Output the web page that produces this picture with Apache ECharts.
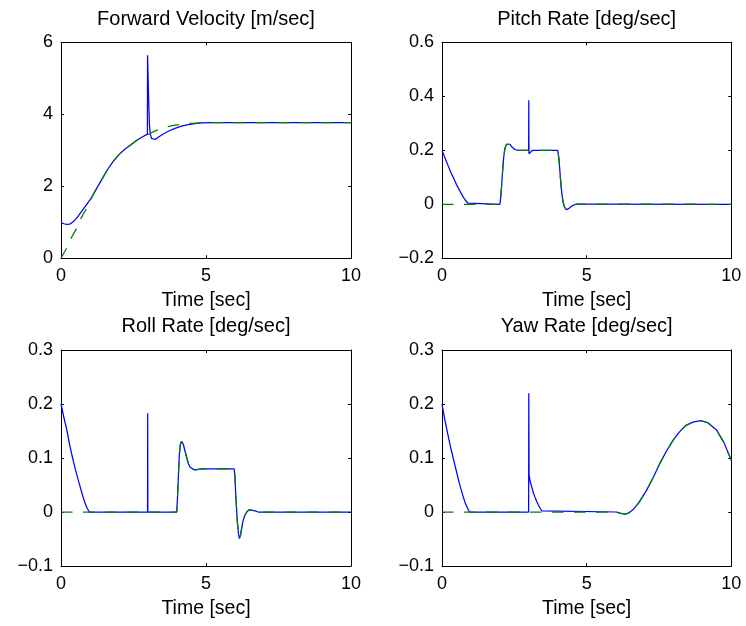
<!DOCTYPE html>
<html>
<head>
<meta charset="utf-8">
<title>Vehicle response</title>
<script src="https://cdn.jsdelivr.net/npm/echarts@6/dist/echarts.min.js"></script>
<style>
  html, body { margin: 0; padding: 0; background: #fff; }
  #chart { width: 746px; height: 626px; }
</style>
</head>
<body>
<div id="chart"></div>
<script>
// ---- Forward velocity [m/sec] ----
const velT = [0, 0.1, 0.2, 0.3, 0.4, 0.5, 0.6, 0.7, 0.8, 0.9, 1.0, 1.1, 1.2, 1.3, 1.4, 1.6, 1.8, 2.0, 2.2, 2.4, 2.6, 2.8, 2.98,
              2.985, 3.02, 3.05, 3.08, 3.12, 3.18, 3.25, 3.35, 3.5, 3.7, 3.93, 4.1, 4.3, 4.5, 4.8, 5.2, 6, 8, 10];
const velV = [0.99, 0.96, 0.94, 0.95, 1.0, 1.08, 1.18, 1.29, 1.40, 1.51, 1.62, 1.76, 1.90, 2.04, 2.18, 2.46, 2.69, 2.88, 3.03, 3.15, 3.27, 3.37, 3.45,
              5.64, 4.5, 3.7, 3.45, 3.33, 3.29, 3.30, 3.36, 3.44, 3.53, 3.61, 3.66, 3.70, 3.73, 3.76, 3.77, 3.77, 3.77, 3.77];
const velRefT = [0, 0.2, 0.35, 0.54, 0.69, 0.89, 1.0, 1.1, 1.2, 1.3, 1.4, 1.6, 1.8, 2.0, 2.2, 2.4, 2.6, 2.8, 3.0, 3.24, 3.45, 3.64, 3.93, 4.2, 4.5, 4.8, 5.2, 10];
const velRefV = [0, 0.29, 0.56, 0.83, 1.11, 1.40, 1.60, 1.75, 1.90, 2.04, 2.18, 2.46, 2.69, 2.88, 3.03, 3.15, 3.27, 3.36, 3.44, 3.54, 3.60, 3.65, 3.70, 3.73, 3.75, 3.76, 3.77, 3.77];

// ---- Pitch rate [deg/sec] ----
const pitchT = [0, 0.1, 0.2, 0.3, 0.4, 0.5, 0.6, 0.7, 0.8, 0.9, 0.96, 2.0, 2.03, 2.06, 2.09, 2.12, 2.15, 2.18, 2.23, 2.29, 2.35, 2.42, 2.52, 2.62, 2.75,
                2.995, 3.0, 3.005, 3.05, 3.13, 4.0, 4.04, 4.08, 4.11, 4.14, 4.18, 4.22, 4.29, 4.38, 4.48, 4.57, 4.65, 10];
const pitchV = [0.2, 0.172, 0.146, 0.12, 0.097, 0.073, 0.053, 0.033, 0.016, 0.004, 0, 0, 0.025, 0.067, 0.115, 0.16, 0.19, 0.209, 0.222, 0.227, 0.222, 0.212, 0.203, 0.2, 0.2,
                0.2, 0.385, 0.187, 0.192, 0.2, 0.2, 0.17, 0.116, 0.075, 0.042, 0.012, -0.007, -0.02, -0.016, -0.007, -0.002, 0.001, 0];
const pitchRefT = [0, 2.0, 2.03, 2.06, 2.09, 2.12, 2.15, 2.18, 2.23, 2.29, 2.35, 2.42, 2.52, 2.62, 2.75,
                   4.0, 4.04, 4.08, 4.11, 4.14, 4.18, 4.22, 4.29, 4.38, 4.48, 4.57, 4.65, 10];
const pitchRefV = [0, 0, 0.025, 0.067, 0.115, 0.16, 0.19, 0.209, 0.222, 0.227, 0.222, 0.212, 0.203, 0.2, 0.2,
                   0.2, 0.17, 0.116, 0.075, 0.042, 0.012, -0.007, -0.02, -0.016, -0.007, -0.002, 0.001, 0];

// ---- Roll rate [deg/sec] ----
const rollT = [0, 0.1, 0.2, 0.3, 0.4, 0.5, 0.6, 0.7, 0.8, 0.9, 0.98, 2.985, 2.99, 2.995,
               3.99, 4.02, 4.05, 4.08, 4.11, 4.16, 4.22, 4.28, 4.34, 4.39, 4.45, 4.51, 4.6, 4.75, 4.9, 5.97,
               6.0, 6.02, 6.05, 6.08, 6.12, 6.15, 6.19, 6.23, 6.28, 6.34, 6.42, 6.49, 6.6, 6.69, 6.8, 10];
const rollV = [0.2, 0.175, 0.152, 0.124, 0.1, 0.078, 0.058, 0.039, 0.021, 0.007, 0, 0, 0.183, 0,
               0, 0.03, 0.069, 0.105, 0.124, 0.131, 0.125, 0.112, 0.1, 0.09, 0.083, 0.08, 0.078, 0.079, 0.08, 0.08,
               0.065, 0.038, 0.01, -0.018, -0.04, -0.049, -0.043, -0.03, -0.016, -0.006, 0.001, 0.004, 0.003, 0.002, 0, 0];
const rollRefT = [0, 3.99, 4.02, 4.05, 4.08, 4.11, 4.16, 4.22, 4.28, 4.34, 4.39, 4.45, 4.51, 4.6, 4.75, 4.9, 5.97,
                  6.0, 6.02, 6.05, 6.08, 6.12, 6.15, 6.19, 6.23, 6.28, 6.34, 6.42, 6.49, 6.6, 6.69, 6.8, 10];
const rollRefV = [0, 0, 0.03, 0.069, 0.105, 0.124, 0.131, 0.125, 0.112, 0.1, 0.09, 0.083, 0.08, 0.078, 0.079, 0.08, 0.08,
                  0.065, 0.038, 0.01, -0.018, -0.04, -0.049, -0.043, -0.03, -0.016, -0.006, 0.001, 0.004, 0.003, 0.002, 0, 0];

// ---- Yaw rate [deg/sec] ----
const yawT = [0, 0.1, 0.2, 0.3, 0.4, 0.5, 0.6, 0.7, 0.8, 0.9, 0.96, 2.995, 3.0, 3.01, 3.05, 3.1, 3.15, 3.21, 3.27, 3.33, 3.39, 3.45, 3.5,
              6.03, 6.15, 6.32, 6.45, 6.6, 6.8, 7.07, 7.3, 7.53, 7.75, 7.99, 8.2, 8.45, 8.7, 8.97, 9.2, 9.49, 9.75, 10];
const yawV = [0.2, 0.17, 0.144, 0.119, 0.097, 0.075, 0.053, 0.034, 0.017, 0.005, 0, 0, 0.22, 0.069, 0.056, 0.047, 0.037, 0.028, 0.02, 0.013, 0.007, 0.002, 0,
              0, -0.002, -0.004, -0.002, 0.004, 0.017, 0.04, 0.064, 0.09, 0.112, 0.133, 0.148, 0.161, 0.167, 0.169, 0.165, 0.152, 0.128, 0.096];
const yawRefT = [0, 6.03, 6.15, 6.32, 6.45, 6.6, 6.8, 7.07, 7.3, 7.53, 7.75, 7.99, 8.2, 8.45, 8.7, 8.97, 9.2, 9.49, 9.75, 10];
const yawRefV = [0, 0, -0.002, -0.004, -0.002, 0.004, 0.017, 0.04, 0.064, 0.09, 0.112, 0.133, 0.148, 0.161, 0.167, 0.169, 0.165, 0.152, 0.128, 0.096];

// ---- Axis ticks ----
const timeTicks = { min: 0, max: 10, step: 5 };
const velTicks = { min: 0, max: 6, step: 2 };
const pitchTicks = { min: -0.2, max: 0.6, step: 0.2 };
const rollTicks = { min: -0.1, max: 0.3, step: 0.1 };
const yawTicks = { min: -0.1, max: 0.3, step: 0.1 };

const FONT = '"Liberation Sans", Arial, Helvetica, sans-serif';
const BLACK = '#000';

const panels = [
  { title: 'Forward Velocity [m/sec]', box: { left: 61, top: 42.3, width: 290, height: 216 }, titleTop: 9.7,
    y: velTicks, actual: [velT, velV], ref: [velRefT, velRefV] },
  { title: 'Pitch Rate [deg/sec]', box: { left: 442, top: 42.3, width: 289.3, height: 216 }, titleTop: 9.7,
    y: pitchTicks, actual: [pitchT, pitchV], ref: [pitchRefT, pitchRefV] },
  { title: 'Roll Rate [deg/sec]', box: { left: 61, top: 350, width: 290, height: 216 }, titleTop: 316.7,
    y: rollTicks, actual: [rollT, rollV], ref: [rollRefT, rollRefV] },
  { title: 'Yaw Rate [deg/sec]', box: { left: 442, top: 350, width: 289.3, height: 216 }, titleTop: 316.7,
    y: yawTicks, actual: [yawT, yawV], ref: [yawRefT, yawRefV] }
];

const pairs = (ts, vs) => ts.map((t, k) => [t, vs[k]]);
const tickText = v => String(Math.round(v * 1000) / 1000).replace('-', '\u2212');

const frameLine = { show: true, onZero: false, lineStyle: { color: BLACK, width: 1 } };
const innerTick = { show: true, inside: true, length: 3, lineStyle: { color: BLACK, width: 1 } };

const grid = [], xAxis = [], yAxis = [], series = [], title = [];

panels.forEach((p, i) => {
  grid.push({ left: p.box.left, top: p.box.top, width: p.box.width, height: p.box.height, containLabel: false });

  title.push({
    text: p.title,
    left: p.box.left + p.box.width / 2,
    top: p.titleTop,
    padding: 0,
    textAlign: 'center',
    textStyle: { fontFamily: FONT, fontSize: 20, fontWeight: 'normal', color: BLACK }
  });

  // bottom axis with labels, top axis closes the box
  xAxis.push({
    gridIndex: i, type: 'value', position: 'bottom',
    min: timeTicks.min, max: timeTicks.max, interval: timeTicks.step,
    axisLine: frameLine, axisTick: innerTick, splitLine: { show: false },
    axisLabel: { show: true, margin: 9, color: BLACK, fontFamily: FONT, fontSize: 18, formatter: tickText },
    name: 'Time [sec]', nameLocation: 'middle', nameGap: 32.5, nameMoveOverlap: false,
    nameTextStyle: { fontFamily: FONT, fontSize: 19.5, color: BLACK }
  });
  xAxis.push({
    gridIndex: i, type: 'value', position: 'top',
    min: timeTicks.min, max: timeTicks.max, interval: timeTicks.step,
    axisLine: frameLine, axisTick: innerTick, splitLine: { show: false },
    axisLabel: { show: false }
  });

  // left axis with labels, right axis closes the box
  yAxis.push({
    gridIndex: i, type: 'value', position: 'left',
    min: p.y.min, max: p.y.max, interval: p.y.step,
    axisLine: frameLine, axisTick: innerTick, splitLine: { show: false },
    axisLabel: { show: true, margin: 8, color: BLACK, fontFamily: FONT, fontSize: 18, formatter: tickText }
  });
  yAxis.push({
    gridIndex: i, type: 'value', position: 'right',
    min: p.y.min, max: p.y.max, interval: p.y.step,
    axisLine: frameLine, axisTick: innerTick, splitLine: { show: false },
    axisLabel: { show: false }
  });

  series.push({
    type: 'line', xAxisIndex: 2 * i, yAxisIndex: 2 * i,
    data: pairs(p.actual[0], p.actual[1]),
    showSymbol: false, symbol: 'none', silent: true, emphasis: { disabled: true },
    lineStyle: { color: '#0000ff', width: 1.25 }
  });
  series.push({
    type: 'line', xAxisIndex: 2 * i, yAxisIndex: 2 * i,
    data: pairs(p.ref[0], p.ref[1]),
    showSymbol: false, symbol: 'none', silent: true, emphasis: { disabled: true },
    lineStyle: { color: '#008000', width: 1.25, type: [11.5, 10.5] }
  });
});

const chart = echarts.init(document.getElementById('chart'), null, { renderer: 'canvas' });
chart.setOption({
  backgroundColor: '#fff',
  animation: false,
  title, grid, xAxis, yAxis, series
});
</script>
</body>
</html>
